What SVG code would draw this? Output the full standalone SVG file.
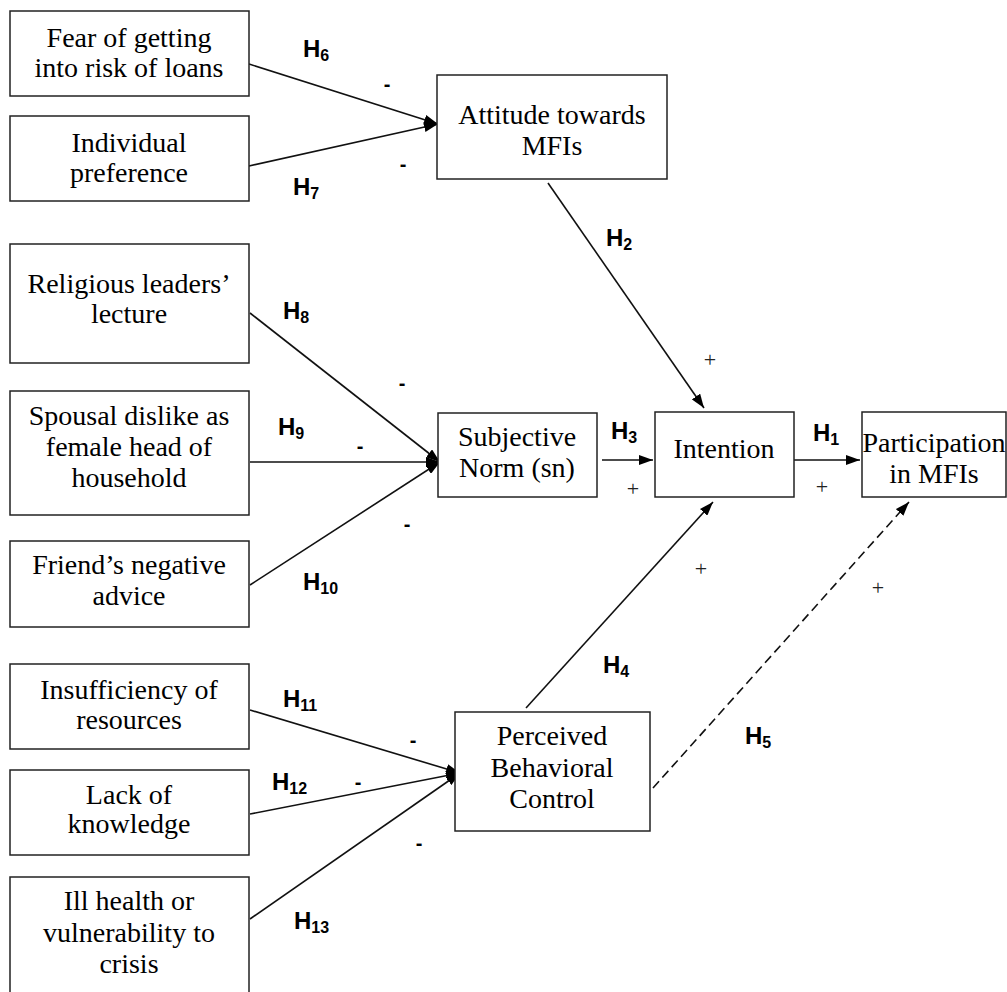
<svg xmlns="http://www.w3.org/2000/svg" width="1007" height="992" viewBox="0 0 1007 992">
<defs>
<style>
.box{fill:#fff;stroke:#222;stroke-width:1.5}
.t{font-family:"Liberation Serif","Times New Roman",serif;font-size:28px;fill:#000;text-anchor:middle}
.h{font-family:"Liberation Sans",Arial,sans-serif;font-size:24px;font-weight:bold;fill:#000}
.h .s{font-size:16px}
.m{font-family:"Liberation Sans",Arial,sans-serif;font-size:20px;font-weight:bold;fill:#000;text-anchor:middle}
.p{font-family:"Liberation Serif","Times New Roman",serif;font-size:22px;fill:#222;text-anchor:middle}
.c{stroke:#111;stroke-width:1.6;fill:none;marker-end:url(#ah)}
.d{stroke-dasharray:9 5}
</style>
<marker id="ah" markerUnits="userSpaceOnUse" markerWidth="14" markerHeight="10" refX="14" refY="5" orient="auto">
<path d="M0,0 L14,5 L0,10 z" fill="#000"/>
</marker>
</defs>
<rect width="1007" height="992" fill="#fff"/>

<g id="connectors">
<line class="c" x1="249" y1="64" x2="438" y2="124"/>
<line class="c" x1="249" y1="166" x2="438" y2="124"/>
<line class="c" x1="548" y1="183" x2="704" y2="408"/>
<line class="c" x1="250" y1="313" x2="440" y2="462"/>
<line class="c" x1="250" y1="462" x2="440" y2="462"/>
<line class="c" x1="250" y1="585" x2="440" y2="462"/>
<line class="c" x1="602" y1="460" x2="653" y2="460"/>
<line class="c" x1="794" y1="460" x2="860" y2="460"/>
<line class="c" x1="526" y1="708" x2="713" y2="502"/>
<line class="c d" x1="653" y1="788" x2="909" y2="502"/>
<line class="c" x1="250" y1="710" x2="460" y2="773"/>
<line class="c" x1="250" y1="814" x2="460" y2="773"/>
<line class="c" x1="250" y1="919" x2="460" y2="773"/>
</g>

<g id="fear">
<rect class="box" x="10" y="11" width="239" height="85"/>
<text class="t" x="129" y="47">Fear of getting</text>
<text class="t" x="129" y="77">into risk of loans</text>
</g>
<g id="individual">
<rect class="box" x="10" y="116" width="239" height="85"/>
<text class="t" x="129" y="152">Individual</text>
<text class="t" x="129" y="182">preference</text>
</g>
<g id="religious">
<rect class="box" x="10" y="244" width="239" height="119"/>
<text class="t" x="129" y="293">Religious leaders’</text>
<text class="t" x="129" y="323">lecture</text>
</g>
<g id="spousal">
<rect class="box" x="10" y="391" width="239" height="124"/>
<text class="t" x="129" y="425">Spousal dislike as</text>
<text class="t" x="129" y="456">female head of</text>
<text class="t" x="129" y="487">household</text>
</g>
<g id="friend">
<rect class="box" x="10" y="541" width="239" height="86"/>
<text class="t" x="129" y="574">Friend’s negative</text>
<text class="t" x="129" y="605">advice</text>
</g>
<g id="insufficiency">
<rect class="box" x="10" y="664" width="239" height="85"/>
<text class="t" x="129" y="699">Insufficiency of</text>
<text class="t" x="129" y="729">resources</text>
</g>
<g id="lack">
<rect class="box" x="10" y="770" width="239" height="85"/>
<text class="t" x="129" y="804">Lack of</text>
<text class="t" x="129" y="833">knowledge</text>
</g>
<g id="ill">
<rect class="box" x="10" y="877" width="239" height="130"/>
<text class="t" x="129" y="910">Ill health or</text>
<text class="t" x="129" y="942">vulnerability to</text>
<text class="t" x="129" y="973">crisis</text>
</g>

<g id="attitude">
<rect class="box" x="437" y="75" width="230" height="104"/>
<text class="t" x="552" y="124">Attitude towards</text>
<text class="t" x="552" y="155">MFIs</text>
</g>
<g id="sn">
<rect class="box" x="438" y="413" width="159" height="84"/>
<text class="t" x="517" y="446">Subjective</text>
<text class="t" x="517" y="477">Norm (sn)</text>
</g>
<g id="intention">
<rect class="box" x="655" y="412" width="139" height="85"/>
<text class="t" x="724" y="458">Intention</text>
</g>
<g id="participation">
<rect class="box" x="862" y="412" width="144" height="85"/>
<text class="t" x="934" y="452">Participation</text>
<text class="t" x="934" y="483">in MFIs</text>
</g>
<g id="pbc">
<rect class="box" x="455" y="712" width="195" height="119"/>
<text class="t" x="552" y="745">Perceived</text>
<text class="t" x="552" y="777">Behavioral</text>
<text class="t" x="552" y="808">Control</text>
</g>

<g id="labels">
<text class="h" x="303" y="57">H<tspan class="s" dy="4">6</tspan></text>
<text class="h" x="293" y="195">H<tspan class="s" dy="4">7</tspan></text>
<text class="h" x="606" y="246">H<tspan class="s" dy="4">2</tspan></text>
<text class="h" x="283" y="319">H<tspan class="s" dy="4">8</tspan></text>
<text class="h" x="278" y="435">H<tspan class="s" dy="4">9</tspan></text>
<text class="h" x="303" y="590">H<tspan class="s" dy="4">10</tspan></text>
<text class="h" x="611" y="439">H<tspan class="s" dy="4">3</tspan></text>
<text class="h" x="813" y="441">H<tspan class="s" dy="4">1</tspan></text>
<text class="h" x="603" y="673">H<tspan class="s" dy="4">4</tspan></text>
<text class="h" x="745" y="744">H<tspan class="s" dy="4">5</tspan></text>
<text class="h" x="283" y="707">H<tspan class="s" dy="4">11</tspan></text>
<text class="h" x="272" y="790">H<tspan class="s" dy="4">12</tspan></text>
<text class="h" x="294" y="929">H<tspan class="s" dy="4">13</tspan></text>

<text class="m" x="387" y="91">-</text>
<text class="m" x="403" y="171">-</text>
<text class="m" x="402" y="390">-</text>
<text class="m" x="360" y="453">-</text>
<text class="m" x="407" y="531">-</text>
<text class="m" x="413" y="747">-</text>
<text class="m" x="358" y="789">-</text>
<text class="m" x="419" y="850">-</text>

<text class="p" x="710" y="367">+</text>
<text class="p" x="633" y="496">+</text>
<text class="p" x="822" y="494">+</text>
<text class="p" x="701" y="576">+</text>
<text class="p" x="878" y="595">+</text>
</g>
</svg>
